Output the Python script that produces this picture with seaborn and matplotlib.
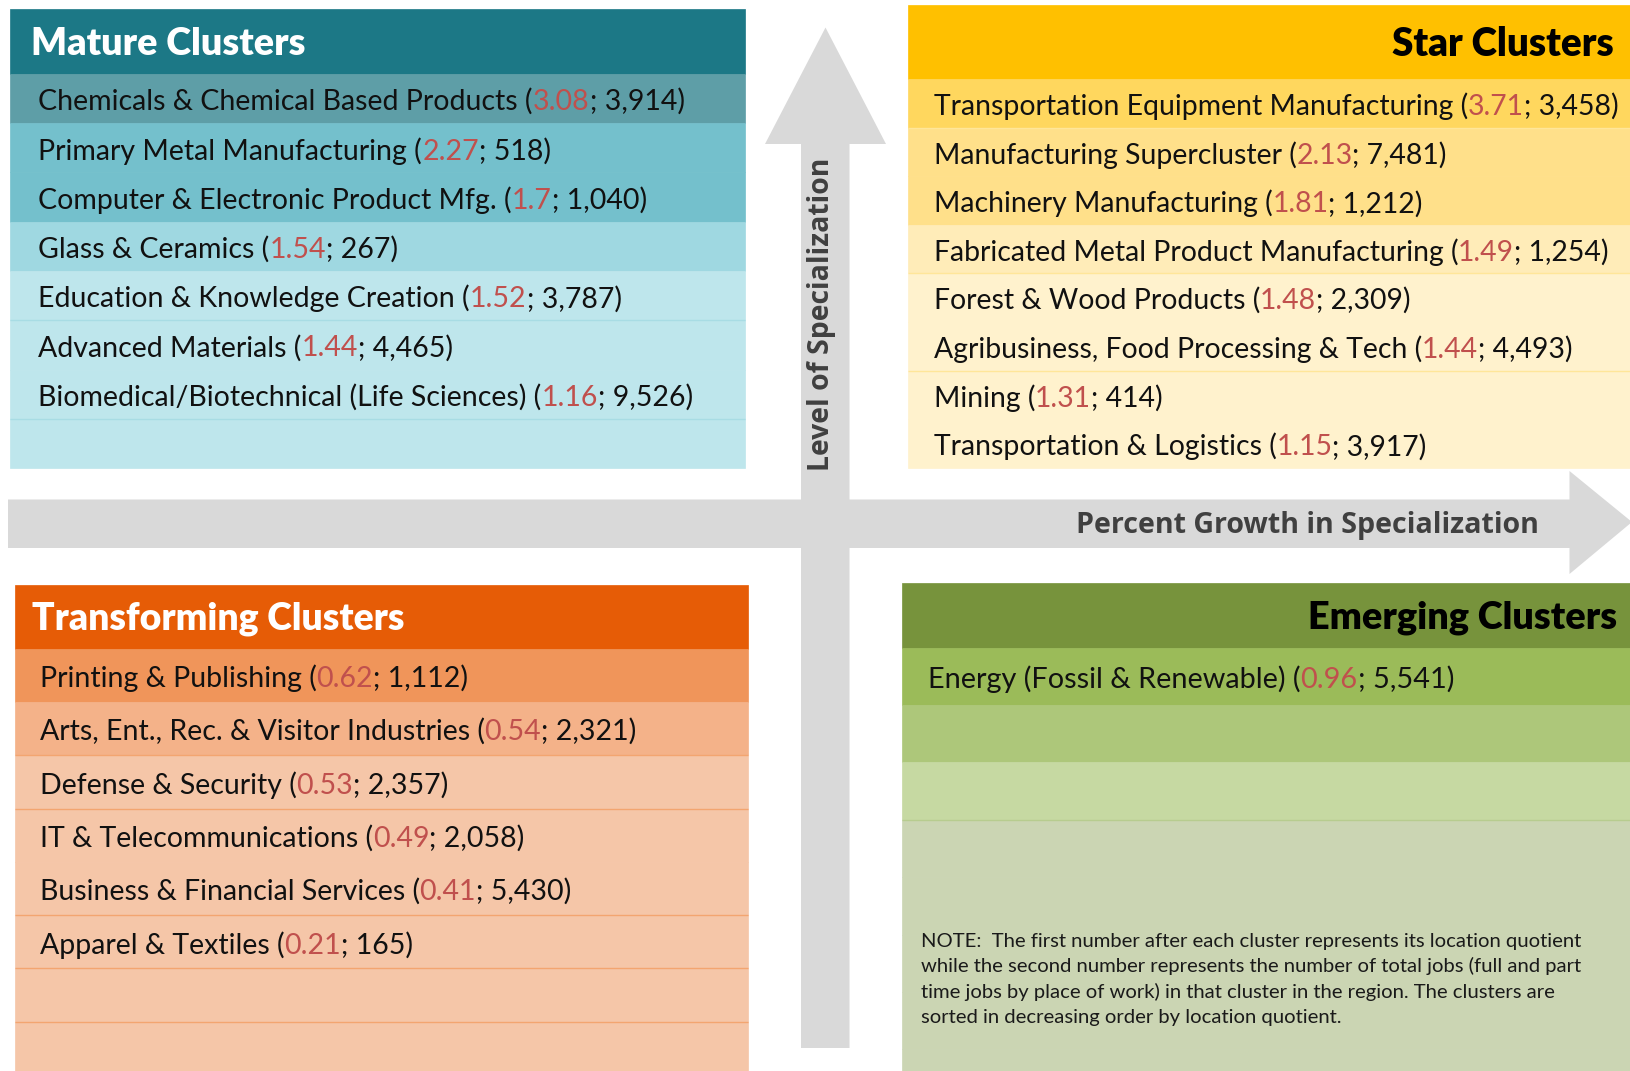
import numpy as np
import matplotlib
matplotlib.use("Agg")
import matplotlib.pyplot as plt
import seaborn as sns

# cluster data: name, location quotient, total jobs
mature_names = ["Chemicals & Chemical Based Products", "Primary Metal Manufacturing",
                "Computer & Electronic Product Mfg.", "Glass & Ceramics",
                "Education & Knowledge Creation", "Advanced Materials",
                "Biomedical/Biotechnical (Life Sciences)"]
mature_lq = [3.08, 2.27, 1.7, 1.54, 1.52, 1.44, 1.16]
mature_jobs = [3914, 518, 1040, 267, 3787, 4465, 9526]

star_names = ["Transportation Equipment Manufacturing", "Manufacturing Supercluster",
              "Machinery Manufacturing", "Fabricated Metal Product Manufacturing",
              "Forest & Wood Products", "Agribusiness, Food Processing & Tech",
              "Mining", "Transportation & Logistics"]
star_lq = [3.71, 2.13, 1.81, 1.49, 1.48, 1.44, 1.31, 1.15]
star_jobs = [3458, 7481, 1212, 1254, 2309, 4493, 414, 3917]

transforming_names = ["Printing & Publishing", "Arts, Ent., Rec. & Visitor Industries",
                      "Defense & Security", "IT & Telecommunications",
                      "Business & Financial Services", "Apparel & Textiles"]
transforming_lq = [0.62, 0.54, 0.53, 0.49, 0.41, 0.21]
transforming_jobs = [1112, 2321, 2357, 2058, 5430, 165]

emerging_names = ["Energy (Fossil & Renewable)"]
emerging_lq = [0.96]
emerging_jobs = [5541]

note_lines = [
    "NOTE:  The first number after each cluster represents its location quotient",
    "while the second number represents the number of total jobs (full and part",
    "time jobs by place of work) in that cluster in the region. The clusters are",
    "sorted in decreasing order by location quotient.",
]

sns.set_theme(style="white")
plt.rcParams['font.family'] = ['Lato', 'DejaVu Sans']
AXIS_FONT = ['Open Sans', 'DejaVu Sans']
HEAD = dict(family=['Lato', 'DejaVu Sans'], fontweight='heavy')
HEAD_SCALE = 1.2  # no condensed face available, so allow a bit more width
RED = '#C0504D'
GREY = '#D9D9D9'

fig = plt.figure(figsize=(16.3, 10.71), dpi=100)
ax = fig.add_axes([0, 0, 1, 1])
ax.set_xlim(0, 1630)
ax.set_ylim(1071, 0)
ax.axis('off')
renderer = fig.canvas.get_renderer()


def fitted_size(s, width, base=20, **kw):
    t = ax.text(0, 0, s, **kw)
    t.set_fontsize(base)
    w = t.get_window_extent(renderer).width
    t.remove()
    return base * width / w


def label(s, lq, jobs):
    return f"{s} ({lq}; {jobs:,})"


# quadrant arrows
ax.fill([801, 849.5, 849.5, 886, 825.5, 765, 801],
        [1048, 1048, 144, 144, 27.5, 144, 144], color=GREY, lw=0, zorder=1)
ax.fill([8, 1569.5, 1569.5, 1632, 1569.5, 1569.5, 8],
        [499.5, 499.5, 471, 522, 574, 548, 548], color=GREY, lw=0, zorder=1)

ax.text(822, 314, "Level of Specialization", rotation=90, ha='center', va='center',
        color='#404040', fontweight='bold', family=AXIS_FONT,
        fontsize=fitted_size("Level of Specialization", 314, family=AXIS_FONT, fontweight='bold'))
ax.text(1539, 525, "Percent Growth in Specialization", ha='right', va='center',
        color='#404040', fontweight='bold', family=AXIS_FONT,
        fontsize=fitted_size("Percent Growth in Specialization", 465,
                             family=AXIS_FONT, fontweight='bold'))


def panel(x0, x1, top, head_h, row_h, row_colors, head_color, title, title_color,
          title_right, title_x, title_w, names, lqs, jobs, text_x, fit_w, lines, line_color):
    ax.barh(top + head_h / 2, x1 - x0, left=x0, height=head_h, color=head_color,
            edgecolor=head_color, linewidth=0.5, zorder=2)
    body = top + head_h
    centers = body + row_h * (np.arange(len(row_colors)) + 0.5)
    ax.barh(centers, x1 - x0, left=x0, height=row_h, color=row_colors,
            edgecolor=row_colors, linewidth=0.5, zorder=2)
    for k in lines:
        ax.hlines(body + row_h * k, x0, x1, color=line_color, lw=1, zorder=3)

    size = fitted_size(title, title_w * HEAD_SCALE, **HEAD)
    ax.text(title_x, top + head_h / 2 + 2, title, ha='right' if title_right else 'left',
            va='center', color=title_color, zorder=4, fontsize=size, **HEAD)

    longest = max(range(len(names)), key=lambda i: len(label(names[i], lqs[i], jobs[i])))
    fs = fitted_size(label(names[longest], lqs[longest], jobs[longest]), fit_w)
    for i, (n, q, j) in enumerate(zip(names, lqs, jobs)):
        t1 = ax.text(text_x, centers[i] + 3, f"{n} (", va='center', ha='left',
                     fontsize=fs, color='#111111', zorder=4)
        t2 = ax.annotate(f"{q}", xy=(1, 0), xycoords=t1, va='bottom', ha='left',
                         fontsize=fs, color=RED, zorder=4)
        ax.annotate(f"; {j:,})", xy=(1, 0), xycoords=t2, va='bottom', ha='left',
                    fontsize=fs, color='#111111', zorder=4)
    return centers


panel(10, 745, 9.4, 64.4, 49.3,
      ['#5E9EA7', '#74C0CC', '#74C0CC', '#9FD8E1'] + ['#BEE6EC'] * 4,
      '#1C7886', "Mature Clusters", 'white', False, 31, 229,
      mature_names, mature_lq, mature_jobs, 38.5, 654, [5, 7], '#A8DCE4')

panel(907.5, 1630, 5.2, 73.8, 48.6,
      ['#FFD75E', '#FFE08A', '#FFE08A', '#FFECB8'] + ['#FFF2CD'] * 4,
      '#FFC000', "Star Clusters", 'black', True, 1614, 185,
      star_names, star_lq, star_jobs, 933.5, 685, [1, 4, 6], '#FFE699')

panel(14.5, 747.5, 585, 63.6, 53.3,
      ['#F0955A', '#F4B289'] + ['#F5C6A8'] * 6,
      '#E65C06', "Transforming Clusters", 'white', False, 32, 311,
      transforming_names, transforming_lq, transforming_jobs, 39.5, 597,
      [2, 3, 5, 6, 7], '#F3A570')

panel(902, 1630, 583.2, 64.4, 57.4,
      ['#9BBB59', '#ADC77A', '#C6D9A2'] + ['#CBD5B3'] * 5,
      '#77933C', "Emerging Clusters", 'black', True, 1617, 258,
      emerging_names, emerging_lq, emerging_jobs, 928, 526, [3], '#B7CC8F')

note_fs = fitted_size(note_lines[0], 664)
for i, line in enumerate(note_lines):
    ax.text(921, 941 + i * 25.4, line, ha='left', va='center', fontsize=note_fs,
            color='#1A1A1A', zorder=4)

fig.savefig("out.png", dpi=100)
